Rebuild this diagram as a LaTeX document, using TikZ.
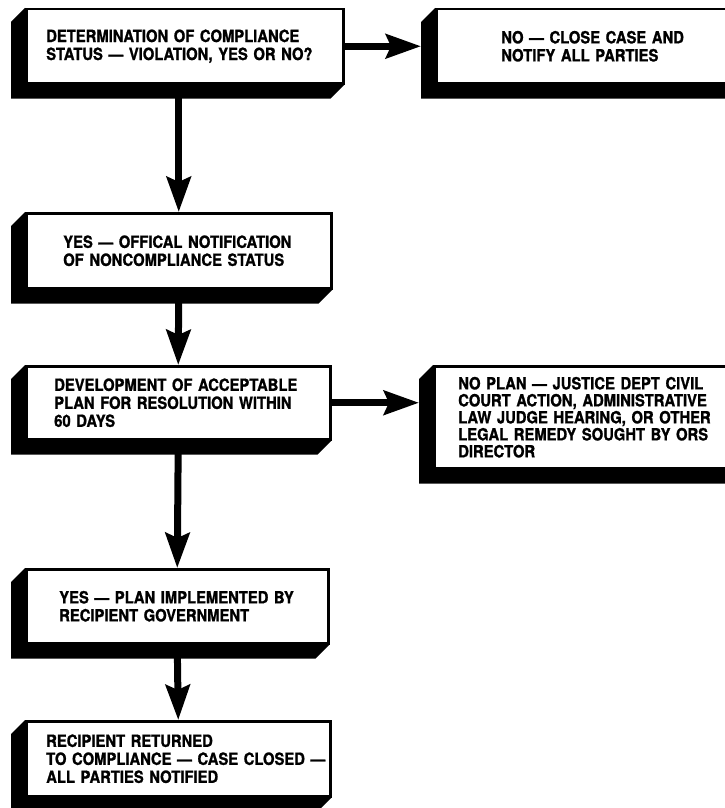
\documentclass[tikz,border=0pt]{standalone}
\usepackage{fontspec}
\setmainfont{TeX Gyre Heros}[FakeStretch=0.88,BoldFeatures={FakeBold=1.2}]
\usetikzlibrary{arrows.meta,backgrounds}
\begin{document}
\begin{tikzpicture}[x=1pt,y=-1pt,
  face/.style={draw,line width=2.5pt,fill=white,anchor=north west,align=left,
    inner ysep=0pt,font=\fontsize{16.8}{18}\selectfont\bfseries},
  flow/.style={line width=7pt,-{Stealth[length=35pt,width=24pt,inset=5pt]}}]
\useasboundingbox (0,0) rectangle (725,808);
\clip (0,0) rectangle (725,808);
% left column
\node[face,minimum height=74pt,inner xsep=20pt,text width=277pt] (det) at (25,8)
  {\mbox{DETERMINATION OF COMPLIANCE}\\\mbox{STATUS --- VIOLATION, YES OR NO?}};
\node[face,minimum height=75pt,inner xsep=37pt,text width=231pt] (yes) at (25,212)
  {\mbox{YES --- OFFICAL NOTIFICATION}\\\mbox{OF NONCOMPLIANCE STATUS}};
\node[face,minimum height=73pt,inner xsep=28pt,text width=248pt] (plan) at (25,365)
  {\mbox{DEVELOPMENT OF ACCEPTABLE}\\\mbox{PLAN FOR RESOLUTION WITHIN}\\60 DAYS};
\node[face,minimum height=74pt,inner xsep=33pt,text width=236pt] (impl) at (25,568)
  {\mbox{YES --- PLAN IMPLEMENTED BY}\\\mbox{RECIPIENT GOVERNMENT}};
\node[face,minimum height=75pt,inner xsep=20pt,text width=264pt] (done) at (25,720)
  {RECIPIENT RETURNED\\\mbox{TO COMPLIANCE --- CASE CLOSED ---}\\\mbox{ALL PARTIES NOTIFIED}};
% right column
\node[face,minimum height=74pt,inner xsep=65pt,text width=190pt] (close) at (435,8)
  {\mbox{NO --- CLOSE CASE AND}\\\mbox{NOTIFY ALL PARTIES}};
\node[face,minimum height=102pt,inner xsep=24pt,text width=282pt,
  font=\fontsize{16.8}{17}\selectfont\bfseries] (legal) at (433,365)
  {\mbox{NO PLAN --- JUSTICE DEPT CIVIL}\\\mbox{COURT ACTION, ADMINISTRATIVE}\\
   \mbox{LAW JUDGE HEARING, OR OTHER}\\\mbox{LEGAL REMEDY SOUGHT BY ORS}\\DIRECTOR};
% solid extrusion behind each box
\begin{scope}[on background layer]
\foreach \n in {det,yes,plan,impl,done,close,legal}
  \fill (\n.north west) -- ++(-14pt,-14pt) |- ([shift={(-14pt,-14pt)}]\n.south east)
    -- (\n.south east) -- cycle;
\end{scope}
% side arrows end on the extrusion
\coordinate (closein) at ([xshift=-14pt]close.west);
\coordinate (legalin) at ([xshift=-14pt]legal.west);
\draw[flow] (det.east) -- (det.east -| closein);
\draw[flow] (plan.east) -- (plan.east -| legalin);
% down the column
\draw[flow] (det.south -| yes.north) -- (yes.north);
\draw[flow] (yes.south) -- (plan.north);
\draw[flow] (plan.south) -- (impl.north);
\draw[flow] (impl.south) -- (done.north);
\end{tikzpicture}
\end{document}
